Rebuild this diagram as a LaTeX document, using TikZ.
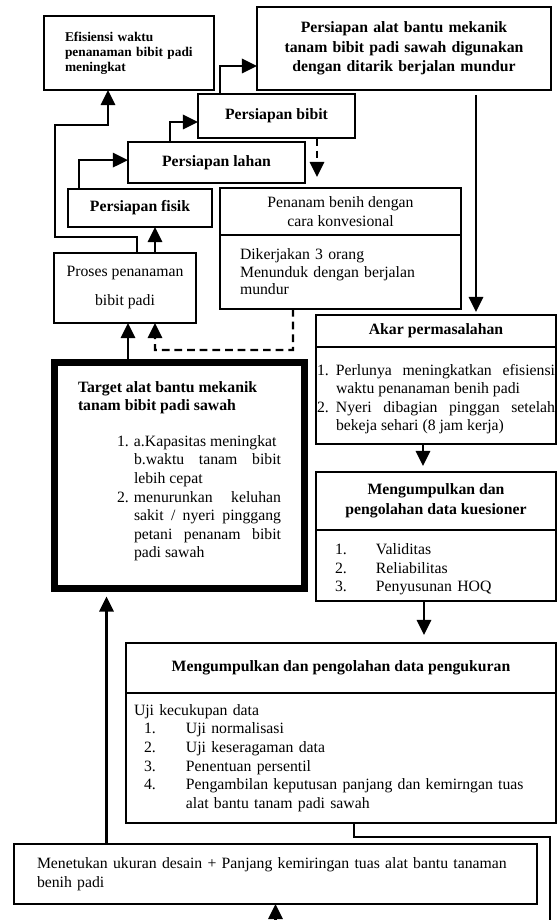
\documentclass[tikz,border=0pt]{standalone}
\usepackage{fontspec}
\setmainfont{Liberation Serif}
\usetikzlibrary{arrows.meta}
\setlength{\parindent}{0pt}
\hyphenpenalty=10000
\exhyphenpenalty=10000
\tolerance=10000
\newcommand{\numline}[3]{\par\hangindent=#1\hangafter=1\noindent\makebox[#1][l]{#2}#3\par}

\begin{document}
\begin{tikzpicture}[font=\fontsize{11.2}{13.2}\selectfont,
	box/.style={draw, very thick, inner sep=0pt, outer sep=0pt},
	hdr/.style={box, font=\fontsize{11.2}{14}\selectfont\bfseries, align=center},
	link/.style={line width=1.5pt, -{Triangle[length=0.38cm,width=0.36cm]}},
	dashlink/.style={link, dash pattern=on 5.5pt off 3.5pt}]
	\useasboundingbox (0,0) rectangle (13.925,23);
	
	% upper part
	\node[box, minimum width=4.25cm, minimum height=1.85cm, text width=3.2cm, align=left, font=\fontsize{9.5}{10.7}\selectfont\bfseries] (eff) at (3.225,21.675) {Efisiensi waktu\\penanaman bibit padi\\meningkat};
	\node[hdr, minimum width=7.35cm, minimum height=2.075cm, text width=7.2cm] (alat) at (10.1,21.7875) {Persiapan alat bantu mekanik\\tanam bibit padi sawah digunakan\\dengan ditarik berjalan mundur};
	\node[hdr, minimum width=3.925cm, minimum height=1.1cm] (bibit) at (6.9125,20.1) {Persiapan bibit};
	\node[hdr, minimum width=4.425cm, minimum height=1.025cm] (lahan) at (5.4125,18.9375) {Persiapan lahan};
	\node[hdr, minimum width=3.6cm, minimum height=0.95cm] (fisik) at (3.5,17.8) {Persiapan fisik};
	\node[box, minimum width=6.025cm, minimum height=1.175cm, align=center, font=\fontsize{11.2}{13.5}\selectfont] (penanam) at (8.5125,17.7125) {Penanam benih dengan\\cara konvesional};
	\node[box, minimum width=6.025cm, minimum height=1.85cm, text width=5.025cm, align=left, anchor=north, font=\fontsize{11.2}{12.5}\selectfont] (penbody) at (penanam.south) {Dikerjakan 3 orang\\Menunduk dengan berjalan\\mundur};
	\node[box, minimum width=3.55cm, minimum height=1.75cm, align=center, font=\fontsize{11.2}{20.6}\selectfont] (proses) at (3.125,15.8) {Proses penanaman\\bibit padi};
	
	% target
	\node[box, line width=0.175cm, minimum width=6.25cm, minimum height=5.65cm, text width=5.075cm, align=justify] (target) at (4.4875,11.1125) {
		{\bfseries Target alat bantu mekanik\newline tanam bibit padi sawah\par}
		\vspace{0.43cm}
		\leftskip=0.975cm
		\numline{0.425cm}{1.}{a.Kapasitas meningkat\newline b.waktu tanam bibit lebih cepat}
		\numline{0.425cm}{2.}{menurunkan keluhan sakit / nyeri pinggang petani penanam bibit padi sawah\rule[-0.3cm]{0pt}{0pt}}};
	
	% right column
	\node[hdr, minimum width=6cm, minimum height=0.8cm] (akar) at (10.9,14.725) {Akar permasalahan};
	\node[box, minimum width=6cm, minimum height=2.425cm, text width=5.95cm, align=justify, anchor=north] (akarbody) at (akar.south) {
		\numline{0.475cm}{1.}{Perlunya meningkatkan efisiensi waktu penanaman benih padi}
		\numline{0.475cm}{2.}{Nyeri dibagian pinggan setelah bekeja sehari (8 jam kerja)}};
	\node[hdr, minimum width=6cm, minimum height=1.45cm] (kues) at (10.9,10.475) {Mengumpulkan dan\\pengolahan data kuesioner};
	\node[box, minimum width=6cm, minimum height=1.775cm, text width=5.05cm, align=left, anchor=north] (kuesbody) at (kues.south) {
		\numline{1.025cm}{1.}{Validitas}
		\numline{1.025cm}{2.}{Reliabilitas}
		\numline{1.025cm}{3.}{Penyusunan HOQ}};
	
	% bottom part
	\node[hdr, minimum width=10.75cm, minimum height=1.25cm] (meas) at (8.525,6.3) {Mengumpulkan dan pengolahan data pengukuran};
	\node[box, minimum width=10.75cm, minimum height=3.25cm, text width=10.35cm, align=left, anchor=north] (measbody) at (meas.south) {
		Uji kecukupan data\par
		\leftskip=0.25cm
		\numline{1.05cm}{1.}{Uji normalisasi}
		\numline{1.05cm}{2.}{Uji keseragaman data}
		\numline{1.05cm}{3.}{Penentuan persentil}
		\numline{1.05cm}{4.}{Pengambilan keputusan panjang dan kemirngan tuas\newline alat bantu tanam padi sawah}};
	\node[box, minimum width=13.075cm, minimum height=1.5cm, text width=11.925cm, align=left] (menet) at (6.8875,1.15) {Menetukan ukuran desain + Panjang kemiringan tuas alat bantu tanaman\\benih padi};
	
	% arrows up the stairs
	\draw[link] ([xshift=0.55cm]bibit.north west) |- ([yshift=-0.4375cm]alat.west);
	\draw[link] ([xshift=1.05cm]lahan.north west) |- ([yshift=-0.15cm]bibit.west);
	\draw[link] ([xshift=0.275cm]fisik.north west) |- ([yshift=0.06cm]lahan.west);
	\draw[link] ([xshift=2.075cm]proses.north west) |- (1.375,17.075) -- (1.375,19.875) -| ([xshift=1.6cm]eff.south west);
	\coordinate (pf) at ([xshift=2.525cm]proses.north west);
	\draw[link] (pf) -- (pf |- fisik.south);
	\coordinate (bp) at ([xshift=2.975cm]bibit.south west);
	\draw[dashlink, shorten >=0.275cm] (bp) -- (bp |- penanam.north);
	\draw[dashlink] ([xshift=1.825cm]penbody.south west) |- (3.875,14.25) -- ([xshift=2.525cm]proses.south west);
	\coordinate (tp) at ([xshift=1.8375cm]target.north west);
	\draw[link] (tp) -- (tp |- proses.south);
	
	% arrows down the right side
	\coordinate (ak) at ([xshift=5.475cm]alat.south west);
	\draw[link, shorten <=0.125cm, shorten >=0.075cm] (ak) -- (ak |- akar.north);
	\coordinate (ku) at ([xshift=2.675cm]akarbody.south west);
	\draw[link, shorten >=0.15cm] (ku) -- (ku |- kues.north);
	\coordinate (me) at ([xshift=2.7cm]kuesbody.south west);
	\draw[link, shorten >=0.2cm] (me) -- (me |- meas.north);
	
	% loop at the bottom
	\coordinate (loopout) at (13.75,0);
	\coordinate (loopin) at (menet.south |- loopout);
	\draw[line width=1.5pt] ([xshift=5.7cm]measbody.south west) |- (13.75,2.075) -- (loopout);
	\draw[link] (loopin) -- (menet.south);
	\coordinate (mt) at ([xshift=2.3125cm]menet.north west);
	\draw[link, shorten >=0.2cm] (mt) -- (mt |- target.south);
\end{tikzpicture}
\end{document}
